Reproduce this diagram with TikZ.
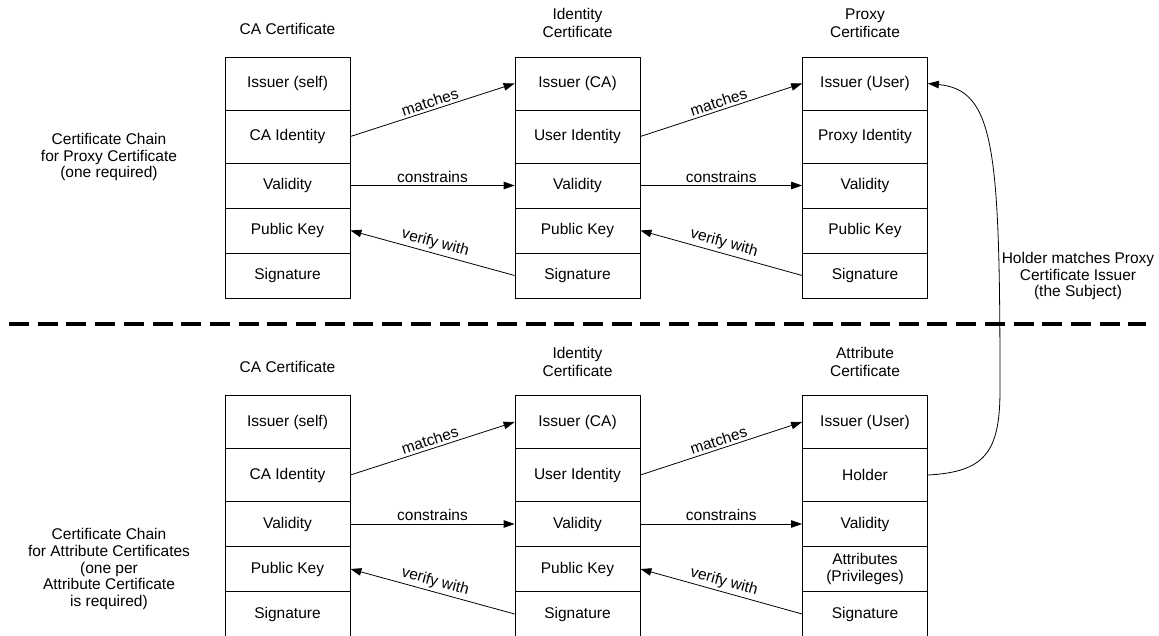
\documentclass[tikz,border=0pt]{standalone}
\usepackage{fontspec}
\setmainfont{Liberation Sans}
\usetikzlibrary{arrows.meta}

\tikzset{
  cell/.style={draw=black, line width=0.8pt, minimum width=125pt, inner sep=0pt,
               align=center, font=\fontsize{15.5}{17}\selectfont},
  tall/.style={cell, minimum height=53pt},
  short/.style={cell, minimum height=45pt},
  title/.style={align=center, font=\fontsize{15.5}{18}\selectfont, inner sep=0pt},
  note/.style={align=center, font=\fontsize{15.5}{16.8}\selectfont, inner sep=0pt},
  link/.style={line width=0.8pt, -{Triangle[length=11pt,width=7.5pt]}},
  tag/.style={font=\fontsize{15.5}{17}\selectfont, inner sep=2.5pt},
}

\begin{document}
\begin{tikzpicture}[x=1pt, y=-1pt]
\useasboundingbox (0,0) rectangle (1159,636);

% ---------- upper chain: CA -> Identity -> Proxy ----------
\node[title] (tca)  at (287.5, 29) {CA Certificate};
\node[title] (tid)  at (577.5, 23) {Identity\\Certificate};
\node[title] (tpx)  at (865, 23)   {Proxy\\Certificate};

\node[tall]  (ca1) at (287.5, 83.5)  {Issuer (self)};
\node[tall]  (ca2) at (287.5, 136.5) {CA Identity};
\node[short] (ca3) at (287.5, 185.5) {Validity};
\node[short] (ca4) at (287.5, 230.5) {Public Key};
\node[short] (ca5) at (287.5, 275.5) {Signature};

\node[tall]  (id1) at (577.5, 83.5)  {Issuer (CA)};
\node[tall]  (id2) at (577.5, 136.5) {User Identity};
\node[short] (id3) at (577.5, 185.5) {Validity};
\node[short] (id4) at (577.5, 230.5) {Public Key};
\node[short] (id5) at (577.5, 275.5) {Signature};

\node[tall]  (px1) at (865, 83.5)  {Issuer (User)};
\node[tall]  (px2) at (865, 136.5) {Proxy Identity};
\node[short] (px3) at (865, 185.5) {Validity};
\node[short] (px4) at (865, 230.5) {Public Key};
\node[short] (px5) at (865, 275.5) {Signature};

\draw[link] (ca2.east) -- (id1.west) node[tag, midway, sloped, above] {matches};
\draw[link] (ca3.east) -- (id3.west) node[tag, midway, above] {constrains};
\draw[link] (id5.west) -- (ca4.east) node[tag, midway, sloped, above] {verify with};

\draw[link] (id2.east) -- (px1.west) node[tag, midway, sloped, above] {matches};
\draw[link] (id3.east) -- (px3.west) node[tag, midway, above] {constrains};
\draw[link] (px5.west) -- (id4.east) node[tag, midway, sloped, above] {verify with};

\node[note] (lup) at (109, 157) {Certificate Chain\\for Proxy Certificate\\(one required)};

% ---------- separator ----------
\coordinate (sepL) at (9, 324);
\coordinate (sepR) at (1146, 324);
\draw[line width=3.5pt, dash pattern=on 20pt off 8.7pt] (sepL) -- (sepR);

% ---------- lower chain: CA -> Identity -> Attribute ----------
\node[title] (bca) at (287.5, 367) {CA Certificate};
\node[title] (bid) at (577.5, 362) {Identity\\Certificate};
\node[title] (bat) at (865, 362)   {Attribute\\Certificate};

\node[tall]  (cb1) at (287.5, 422)  {Issuer (self)};
\node[tall]  (cb2) at (287.5, 475)  {CA Identity};
\node[short] (cb3) at (287.5, 524)  {Validity};
\node[short] (cb4) at (287.5, 569)  {Public Key};
\node[short] (cb5) at (287.5, 614)  {Signature};

\node[tall]  (ib1) at (577.5, 422)  {Issuer (CA)};
\node[tall]  (ib2) at (577.5, 475)  {User Identity};
\node[short] (ib3) at (577.5, 524)  {Validity};
\node[short] (ib4) at (577.5, 569)  {Public Key};
\node[short] (ib5) at (577.5, 614)  {Signature};

\node[tall]  (at1) at (865, 422)  {Issuer (User)};
\node[tall]  (at2) at (865, 475)  {Holder};
\node[short] (at3) at (865, 524)  {Validity};
\node[short] (at4) at (865, 569)  {Attributes\\(Privileges)};
\node[short] (at5) at (865, 614)  {Signature};

\draw[link] (cb2.east) -- (ib1.west) node[tag, midway, sloped, above] {matches};
\draw[link] (cb3.east) -- (ib3.west) node[tag, midway, above] {constrains};
\draw[link] (ib5.west) -- (cb4.east) node[tag, midway, sloped, above] {verify with};

\draw[link] (ib2.east) -- (at1.west) node[tag, midway, sloped, above] {matches};
\draw[link] (ib3.east) -- (at3.west) node[tag, midway, above] {constrains};
\draw[link] (at5.west) -- (ib4.east) node[tag, midway, sloped, above] {verify with};

\node[note] (ldn) at (109, 569) {Certificate Chain\\for Attribute Certificates\\(one per\\Attribute Certificate\\is required)};

% ---------- holder links back to the proxy issuer ----------
\draw[link] (at2.east) .. controls (985,472) and (1000,452) .. (1000,390)
            .. controls (1000,150) and (995,90) .. (px1.east);
\node[note] (hold) at (1078, 276) {Holder matches Proxy\\Certificate Issuer\\(the Subject)};

\end{tikzpicture}
\end{document}
